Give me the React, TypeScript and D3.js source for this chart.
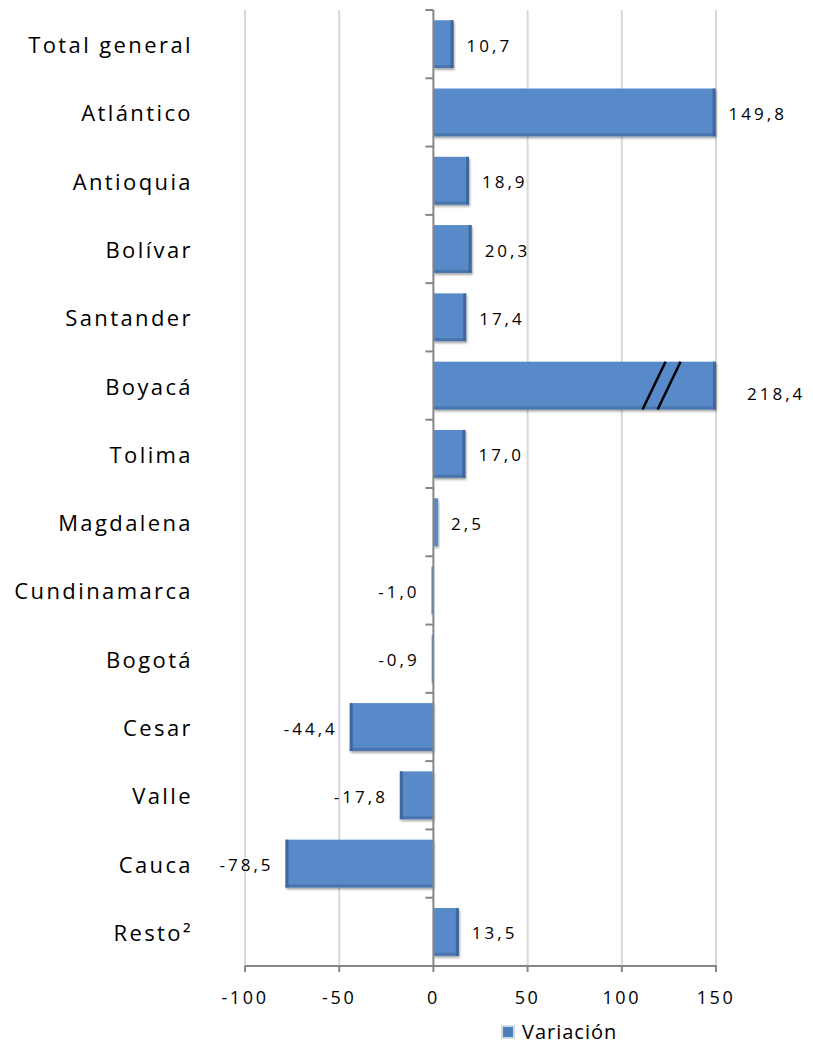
import React from 'react';
import * as d3 from 'd3';

const categories = [
  'Total general',
  'Atlántico',
  'Antioquia',
  'Bolívar',
  'Santander',
  'Boyacá',
  'Tolima',
  'Magdalena',
  'Cundinamarca',
  'Bogotá',
  'Cesar',
  'Valle',
  'Cauca',
  'Resto²',
];

const variacion = [10.7, 149.8, 18.9, 20.3, 17.4, 218.4, 17.0, 2.5, -1.0, -0.9, -44.4, -17.8, -78.5, 13.5];

const xTicks = [-100, -50, 0, 50, 100, 150];
const seriesName = 'Variación';

const W = 813;
const H = 1046;
const FONT = '"Open Sans", "DejaVu Sans", sans-serif';

const fmt = (v: number) => v.toFixed(1).replace('.', ',');

const App: React.FC = () => {
  const x = d3.scaleLinear().domain([-100, 150]).range([245, 716]);
  const y = d3.scaleBand<string>().domain(categories).range([10, 966]).paddingInner(0.3).paddingOuter(0.15);
  const [y0, y1] = y.range();
  const maxV = x.domain()[1];

  return (
    <svg width={W} height={H} style={{ position: 'absolute', left: 0, top: 0, background: '#fff' }}>
      <defs>
        <filter id="shadow" x="-10%" y="-10%" width="130%" height="140%">
          <feDropShadow dx="1" dy="2" stdDeviation="1.2" floodColor="#000" floodOpacity="0.35" />
        </filter>
      </defs>

      {/* gridlines */}
      {xTicks.filter((t) => t !== 0).map((t) => (
        <line key={t} x1={x(t)} x2={x(t)} y1={y0} y2={y1} stroke="#d9d9d9" strokeWidth={2} />
      ))}

      {/* bars */}
      {categories.map((c, i) => {
        const v = variacion[i];
        const clipped = Math.min(v, maxV);
        const xa = x(Math.min(0, clipped));
        const xb = x(Math.max(0, clipped));
        const top = y(c)!;
        const h = y.bandwidth();
        const w = Math.max(xb - xa, 1.5);
        const edgeX = v >= 0 ? xb - 3 : xa;
        return (
          <g key={c}>
            <rect x={xa} y={top} width={w} height={h} fill="#5889c8" filter="url(#shadow)" />
            {w > 6 && <rect x={edgeX} y={top} width={3} height={h} fill="#3b5f93" opacity={0.8} />}
            {w > 6 && <rect x={xa} y={top + h - 3} width={w} height={3} fill="#3f679c" opacity={0.6} />}
          </g>
        );
      })}

      {/* axis break marks on the clipped bar */}
      {categories.map((c, i) => {
        if (variacion[i] <= maxV) return null;
        const top = y(c)!;
        const h = y.bandwidth();
        return [111, 119].map((b) => (
          <line key={c + b} x1={x(b)} y1={top + h} x2={x(b) + 23} y2={top} stroke="#000" strokeWidth={2.5} />
        ));
      })}

      {/* value labels */}
      {categories.map((c, i) => {
        const v = variacion[i];
        const cy = y(c)! + y.bandwidth() / 2;
        const pos = v >= 0;
        const xe = x(Math.min(v, maxV));
        const extra = v > maxV ? 18 : 0;
        return (
          <text
            key={c}
            x={pos ? xe + 13 + extra : x(v) - 12}
            y={cy + (v > maxV ? 8 : 1)}
            textAnchor={pos ? 'start' : 'end'}
            dominantBaseline="central"
            fontFamily={FONT}
            fontSize={17}
            letterSpacing={3}
            fill="#000"
          >
            {fmt(v)}
          </text>
        );
      })}

      {/* y axis */}
      <line x1={x(0)} x2={x(0)} y1={y0} y2={y1} stroke="#868686" strokeWidth={2} />
      {d3.range(categories.length + 1).map((k) => {
        const ty = y0 + (k * (y1 - y0)) / categories.length;
        return <line key={k} x1={x(0) - 8} x2={x(0)} y1={ty} y2={ty} stroke="#868686" strokeWidth={2} />;
      })}

      {/* category labels */}
      {categories.map((c) => (
        <text
          key={c}
          x={193}
          y={y(c)! + y.bandwidth() / 2}
          textAnchor="end"
          dominantBaseline="central"
          fontFamily={FONT}
          fontSize={22}
          letterSpacing={2.4}
          fill="#000"
        >
          {c}
        </text>
      ))}

      {/* x axis */}
      <line x1={x(-100)} x2={x(150) + 1} y1={y1} y2={y1} stroke="#868686" strokeWidth={2} />
      {xTicks.map((t) => (
        <g key={t}>
          <line x1={x(t)} x2={x(t)} y1={y1} y2={y1 + 6} stroke="#868686" strokeWidth={2} />
          <text
            x={x(t)}
            y={997}
            textAnchor="middle"
            dominantBaseline="central"
            fontFamily={FONT}
            fontSize={18}
            letterSpacing={2.6}
            fill="#000"
          >
            {t}
          </text>
        </g>
      ))}

      {/* legend */}
      <rect x={501} y={1025} width={14} height={14} fill="#d5dbe6" />
      <rect x={503} y={1027} width={10} height={10} fill="#4a7bbd" />
      <text x={522} y={1031} dominantBaseline="central" fontFamily={FONT} fontSize={20} letterSpacing={1} fill="#000">
        {seriesName}
      </text>
    </svg>
  );
};

export default App;
